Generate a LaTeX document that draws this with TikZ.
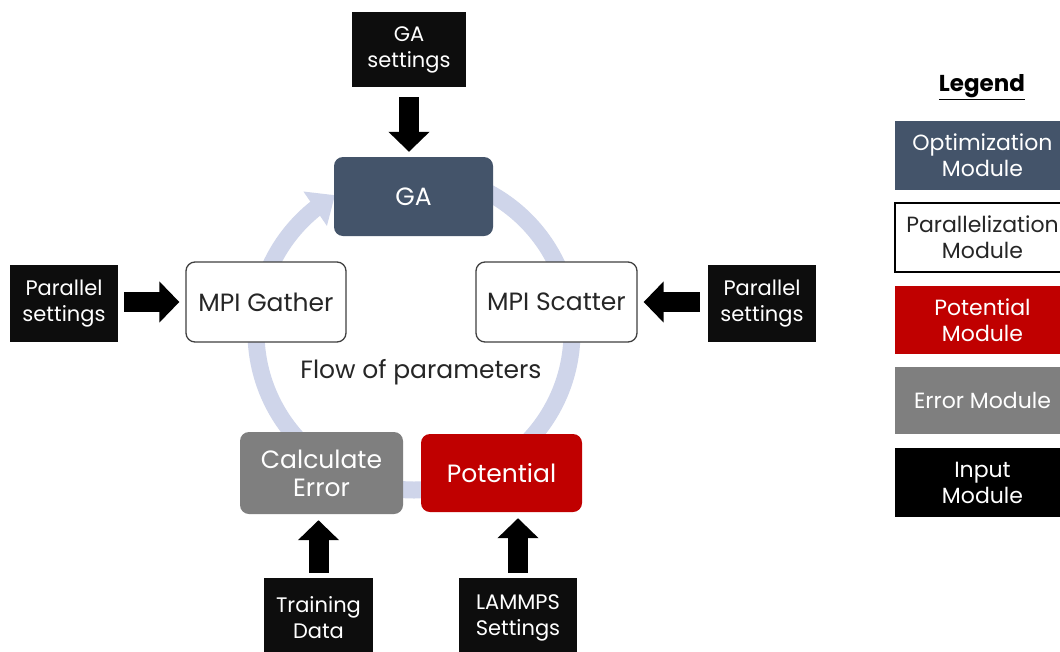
\documentclass[tikz,border=0pt]{standalone}
\usepackage{fontspec}
\setmainfont{Poppins}
\usetikzlibrary{arrows.meta,bending}
\definecolor{gablue}{RGB}{68,84,106}
\definecolor{potred}{RGB}{192,0,0}
\definecolor{errgray}{RGB}{127,127,127}
\definecolor{inblack}{RGB}{13,13,13}
\definecolor{ringc}{RGB}{207,213,234}
\definecolor{edgec}{RGB}{64,64,64}
\begin{document}
\begin{tikzpicture}[x=1pt,y=-1pt,
  every node/.style={inner sep=0pt, align=center},
  mainfont/.style={font=\fontsize{25}{28}\selectfont},
  infont/.style={font=\fontsize{21}{26}\selectfont},
  legfont/.style={font=\fontsize{22}{26}\selectfont},
  modbox/.style={mainfont, rounded corners=9pt, minimum width=160pt, minimum height=80pt},
  optbox/.style={modbox, fill=gablue, text=white},
  parbox/.style={modbox, fill=white, draw=edgec, line width=1.3pt, text=black!85},
  potbox/.style={modbox, fill=potred, text=white},
  errbox/.style={modbox, fill=errgray, text=white},
  inbox/.style={infont, fill=inblack, text=white, minimum width=110pt, minimum height=77pt},
  legbox/.style={legfont, minimum width=175pt, minimum height=69pt},
  blockarrow/.style={line width=20pt, draw=black, -{Triangle[length=20pt,width=40pt]}},
]
\useasboundingbox (0,0) rectangle (1060,651);
\fill[white] (0,0) rectangle (1060,651);

% ring
\begin{scope}[shift={(414,332)}, y=1pt]
  \draw[ringc, line width=17pt, -{Triangle[length=24pt,width=40pt]}]
    (90:158) arc[start angle=90, end angle=-240, radius=158];
\end{scope}

% nodes
\node[inbox, minimum width=114pt, minimum height=75pt] (gaset) at (409,49.5) {GA\\settings};
\node[optbox, minimum width=159pt, minimum height=79pt] (ga) at (413.5,196.5) {GA};
\node[parbox] (gather) at (266,302) {MPI Gather};
\node[parbox, minimum width=161pt] (scatter) at (556.5,302) {MPI Scatter};
\node[inbox, minimum width=108pt] (parL) at (64,303.5) {Parallel\\settings};
\node[inbox, minimum width=108pt] (parR) at (762,303.5) {Parallel\\settings};
\node[mainfont, text=black!85] (flow) at (421,372) {Flow of parameters};
\node[errbox, minimum width=163pt, minimum height=82pt] (calc) at (321.5,473) {Calculate\\Error};
\node[potbox, minimum width=161pt, minimum height=78pt] (pot) at (501.5,473) {Potential};
\node[inbox, minimum width=109pt, minimum height=80pt] (train) at (318.5,618) {Training\\Data};
\node[inbox, minimum width=118pt, minimum height=80pt] (lammps) at (518,618) {LAMMPS\\Settings};

% input arrows
\draw[blockarrow, shorten <=10pt, shorten >=5pt] (gaset.south) -- (gaset.south |- ga.north);
\draw[blockarrow, shorten <=6pt, shorten >=6pt] (parL.east |- gather.west) -- (gather.west);
\draw[blockarrow, shorten <=8pt, shorten >=6pt] (parR.west |- scatter.east) -- (scatter.east);
\draw[blockarrow, shorten <=5pt, shorten >=6pt] (train.north) -- (train.north |- calc.south);
\draw[blockarrow, shorten <=5pt, shorten >=6pt] (lammps.north) -- (lammps.north |- pot.south);

% legend
\node[font=\bfseries\fontsize{23}{26}\selectfont] (legtitle) at (982,87) {\underline{Legend}};
\node[legbox, fill=gablue, text=white] (lopt) at (982.5,155.5) {Optimization\\Module};
\node[legbox, fill=white, draw=black, line width=1.3pt, text=black!85] (lpar) at (982.5,237.5) {Parallelization\\Module};
\node[legbox, fill=potred, text=white, minimum height=68pt] (lpot) at (982.5,320) {Potential\\Module};
\node[legbox, fill=errgray, text=white, minimum height=67pt] (lerr) at (982.5,400.5) {Error Module};
\node[legbox, fill=black, text=white] (linp) at (982.5,482.5) {Input\\Module};
\end{tikzpicture}
\end{document}
